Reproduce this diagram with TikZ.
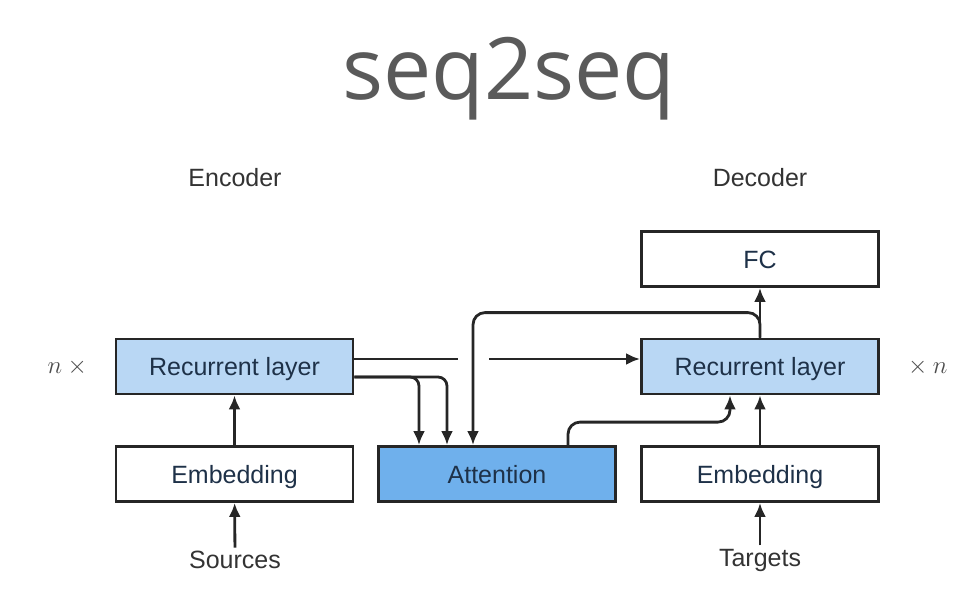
\documentclass[tikz,border=0pt]{standalone}
\usepackage{fontspec}
\setmainfont{Liberation Sans}
\newfontfamily\titlefont{Open Sans}
\usetikzlibrary{arrows.meta}

\definecolor{rnnblue}{HTML}{B9D7F4}
\definecolor{attblue}{HTML}{6FB0EC}
\definecolor{boxtext}{HTML}{1E3148}
\definecolor{titlegray}{HTML}{5A5A5A}

\tikzset{
    box/.style={draw=black!85, line width=2.8pt, minimum width=237pt, minimum height=55pt,
        inner sep=0pt, text height=22pt, text depth=4pt, text=boxtext, font=\fontsize{25}{30}\selectfont},
    lbl/.style={text=black!80, font=\fontsize{25}{30}\selectfont},
    arr/.style={-{Latex[length=14pt,width=12pt]}, line width=2.8pt, draw=black!85},
}

\begin{document}
\begin{tikzpicture}[x=1pt, y=-1pt]
    \useasboundingbox (0,0) rectangle (958,604);

    \node[anchor=base, text=titlegray, font=\titlefont\fontsize{86}{90}\selectfont] (title) at (509,100) {seq2seq};
    \node[lbl] (enc) at (235,178) {Encoder};
    \node[lbl] (dec) at (760,178) {Decoder};

    \node[box] (fc) at (760,259) {FC};
    \node[box, fill=rnnblue] (encrnn) at (234.5,366.5) {Recurrent layer};
    \node[box, fill=rnnblue] (decrnn) at (760,366.5) {Recurrent layer};
    \node[box] (encemb) at (234.5,474) {Embedding};
    \node[box, fill=attblue] (att) at (497,474) {Attention};
    \node[box] (decemb) at (760,474) {Embedding};

    \node[lbl] (src) at (235,560) {Sources};
    \node[lbl] (tgt) at (760,560) {Targets};
    \node[text=black!70, font=\fontsize{23}{26}\selectfont] (nl) at (70,367) {$n\times{}$};
    \node[text=black!70, font=\fontsize{23}{26}\selectfont] (nr) at (925,367) {${}\times n$};

    \coordinate (gapl) at (458,359);
    \coordinate (gapr) at (489,359);

    \draw[arr] (src) -- (encemb);
    \draw[arr] (encemb) -- (encrnn);
    \draw[arr] (tgt) -- (decemb);
    \draw[arr] (decemb) -- (decrnn);
    \draw[arr] (decrnn) -- (fc);

    \draw[arr, -] (encrnn.east |- gapl) -- (gapl);
    \draw[arr] (gapr) -- (gapr -| decrnn.west);
    \draw[arr, rounded corners=9pt] ([yshift=-10.5pt]encrnn.east) -| ([xshift=-50pt]att.north);
    \draw[arr, rounded corners=9pt] ([yshift=-10.5pt]encrnn.east) -| ([xshift=-78pt]att.north);
    \draw[arr, rounded corners=12pt] (decrnn.north) -- ++(0,-25) -| ([xshift=-24pt]att.north);
    \draw[arr, rounded corners=12pt] ([xshift=71pt]att.north) -- ++(0,-23) -| ([xshift=-30pt]decrnn.south);
\end{tikzpicture}
\end{document}
